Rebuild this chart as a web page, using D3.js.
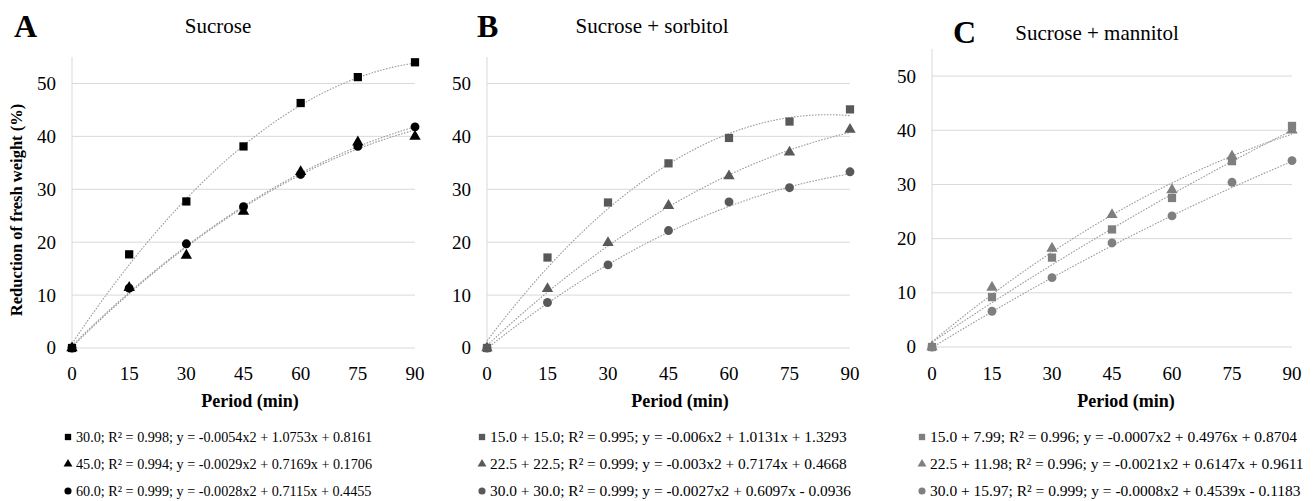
<!DOCTYPE html>
<html>
  <head>
    <meta charset="utf-8">
    <script src="https://cdn.jsdelivr.net/npm/d3@7"></script>
    <style>
      body { margin: 0; background: #fff; }
      svg { display: block; }
      text { font-family: "Liberation Serif", "Times New Roman", serif; fill: #000; }
      .grid line { stroke: #d9d9d9; stroke-width: 1; }
      .trend { fill: none; stroke: #9a9a9a; stroke-width: 1.1; stroke-dasharray: 1.6,1.4; }
    </style>
  </head>
  <body>
    <svg width="1314" height="501"></svg>
    <script>
      // period (min) on the x axis
      var periods = [0, 15, 30, 45, 60, 75, 90];
      var yTicks = [0, 10, 20, 30, 40, 50];

      var panelLetters = ['A', 'B', 'C'];
      var panelTitles = ['Sucrose', 'Sucrose + sorbitol', 'Sucrose + mannitol'];

      // A - sucrose
      var sucA30 = [0, 17.7, 27.7, 38.1, 46.3, 51.2, 54.0];
      var sucA45 = [0, 11.4, 17.5, 25.8, 33.3, 38.9, 40.0];
      var sucA60 = [0, 11.3, 19.7, 26.7, 32.8, 38.1, 41.8];
      // B - sucrose + sorbitol
      var sorB15 = [0, 17.1, 27.5, 34.9, 39.7, 42.8, 45.1];
      var sorB22 = [0, 11.2, 19.9, 26.9, 32.5, 37.0, 41.3];
      var sorB30 = [0, 8.6, 15.7, 22.2, 27.6, 30.3, 33.3];
      // C - sucrose + mannitol
      var manC15 = [0, 9.2, 16.5, 21.7, 27.5, 34.3, 40.8];
      var manC22 = [0, 11.0, 18.2, 24.4, 29.0, 35.2, 40.0];
      var manC30 = [0, 6.6, 12.8, 19.2, 24.2, 30.4, 34.4];

      // trend line coefficients [a, b, c] for y = a x^2 + b x + c (from legend)
      var fitA = [[-0.0054, 1.0753, 0.8161], [-0.0029, 0.7169, 0.1706], [-0.0028, 0.7115, 0.4455]];
      var fitB = [[-0.006, 1.0131, 1.3293], [-0.003, 0.7174, 0.4668], [-0.0027, 0.6097, -0.0936]];
      var fitC = [[-0.0007, 0.4976, 0.8704], [-0.0021, 0.6147, 0.9611], [-0.0008, 0.4539, -0.1183]];

      var legendA = ['30.0; R² = 0.998; y = -0.0054x2 + 1.0753x + 0.8161',
                     '45.0; R² = 0.994; y = -0.0029x2 + 0.7169x + 0.1706',
                     '60.0; R² = 0.999; y = -0.0028x2 + 0.7115x + 0.4455'];
      var legendB = ['15.0 + 15.0; R² = 0.995; y = -0.006x2 + 1.0131x + 1.3293',
                     '22.5 + 22.5; R² = 0.999; y = -0.003x2 + 0.7174x + 0.4668',
                     '30.0 + 30.0; R² = 0.999; y = -0.0027x2 + 0.6097x - 0.0936'];
      var legendC = ['15.0 + 7.99; R² = 0.996; y = -0.0007x2 + 0.4976x + 0.8704',
                     '22.5 + 11.98; R² = 0.996; y = -0.0021x2 + 0.6147x + 0.9611',
                     '30.0 + 15.97; R² = 0.999; y = -0.0008x2 + 0.4539x - 0.1183'];

      var shapes = [d3.symbolSquare, d3.symbolTriangle, d3.symbolCircle];

      var panels = [
        { series: [sucA30, sucA45, sucA60], fits: fitA, legend: legendA, color: '#000',
          x0: 72, x1: 415, top: 57, bottom: 348, titleX: 218, titleY: 33, letterX: 14, letterY: 37,
          periodX: 250, legX: 68, legFont: 14.2 },
        { series: [sorB15, sorB22, sorB30], fits: fitB, legend: legendB, color: '#595959',
          x0: 487, x1: 850, top: 57, bottom: 348, titleX: 652, titleY: 33, letterX: 477, letterY: 37,
          periodX: 680, legX: 482, legFont: 15.4 },
        { series: [manC15, manC22, manC30], fits: fitC, legend: legendC, color: '#7f7f7f',
          x0: 932, x1: 1292, top: 49, bottom: 347, titleX: 1097, titleY: 40, letterX: 953, letterY: 43,
          periodX: 1126, legX: 922, legFont: 15.5 }
      ];

      var svg = d3.select('svg');

      panels.forEach(function (p, i) {
        var g = svg.append('g');
        var x = d3.scaleLinear().domain([0, 90]).range([p.x0, p.x1]);
        var y = d3.scaleLinear().domain([0, 55]).range([p.bottom, p.top]);

        // gridlines
        var grid = g.append('g').attr('class', 'grid');
        grid.selectAll('line.h').data(yTicks).enter().append('line')
            .attr('x1', p.x0).attr('x2', p.x1)
            .attr('y1', function (d) { return y(d); })
            .attr('y2', function (d) { return y(d); });
        grid.append('line')
            .attr('x1', p.x0).attr('x2', p.x0)
            .attr('y1', p.top).attr('y2', p.bottom);

        // y tick labels
        g.selectAll('text.yt').data(yTicks).enter().append('text')
            .attr('x', p.x0 - 16)
            .attr('y', function (d) { return y(d); })
            .attr('dy', '0.34em')
            .attr('text-anchor', 'end')
            .style('font-size', '19px')
            .text(function (d) { return d; });

        // x tick labels
        g.selectAll('text.xt').data(periods).enter().append('text')
            .attr('x', function (d) { return x(d); })
            .attr('y', 380)
            .attr('text-anchor', 'middle')
            .style('font-size', '19px')
            .text(function (d) { return d; });

        // trend lines
        var line = d3.line()
            .x(function (d) { return x(d[0]); })
            .y(function (d) { return y(d[1]); });
        p.fits.forEach(function (f) {
          var pts = d3.range(0, 90.5, 1).map(function (t) {
            return [t, f[0] * t * t + f[1] * t + f[2]];
          });
          g.append('path').attr('class', 'trend').attr('d', line(pts));
        });

        // markers
        p.series.forEach(function (s, k) {
          var sym = d3.symbol().type(shapes[k]).size(k === 1 ? 56 : (k === 0 ? 68 : 62));
          g.selectAll(null).data(s).enter().append('path')
              .attr('d', sym)
              .attr('fill', p.color)
              .attr('transform', function (d, j) {
                return 'translate(' + x(periods[j]) + ',' + y(d) + ')';
              });
        });

        // letter and title
        g.append('text')
            .attr('x', p.letterX).attr('y', p.letterY)
            .style('font-size', '32px').style('font-weight', 'bold')
            .text(panelLetters[i]);
        g.append('text')
            .attr('x', p.titleX).attr('y', p.titleY)
            .attr('text-anchor', 'middle')
            .style('font-size', '21px')
            .text(panelTitles[i]);

        // x axis title
        g.append('text')
            .attr('x', p.periodX).attr('y', 407)
            .attr('text-anchor', 'middle')
            .style('font-size', '18px').style('font-weight', 'bold')
            .text('Period (min)');

        // legend
        p.legend.forEach(function (t, k) {
          var ly = 442 + k * 27;
          var sym = d3.symbol().type(shapes[k]).size(k === 1 ? 34 : 40);
          g.append('path')
              .attr('d', sym)
              .attr('fill', p.color)
              .attr('transform', 'translate(' + p.legX + ',' + (ly - 5) + ')');
          g.append('text')
              .attr('x', p.legX + 8).attr('y', ly)
              .style('font-size', p.legFont + 'px')
              .text(t);
        });
      });

      // y axis title (panel A only)
      svg.append('text')
          .attr('transform', 'translate(22,210) rotate(-90)')
          .attr('text-anchor', 'middle')
          .style('font-size', '16.5px').style('font-weight', 'bold')
          .text('Reduction of fresh weight (%)');
    </script>
  </body>
</html>
